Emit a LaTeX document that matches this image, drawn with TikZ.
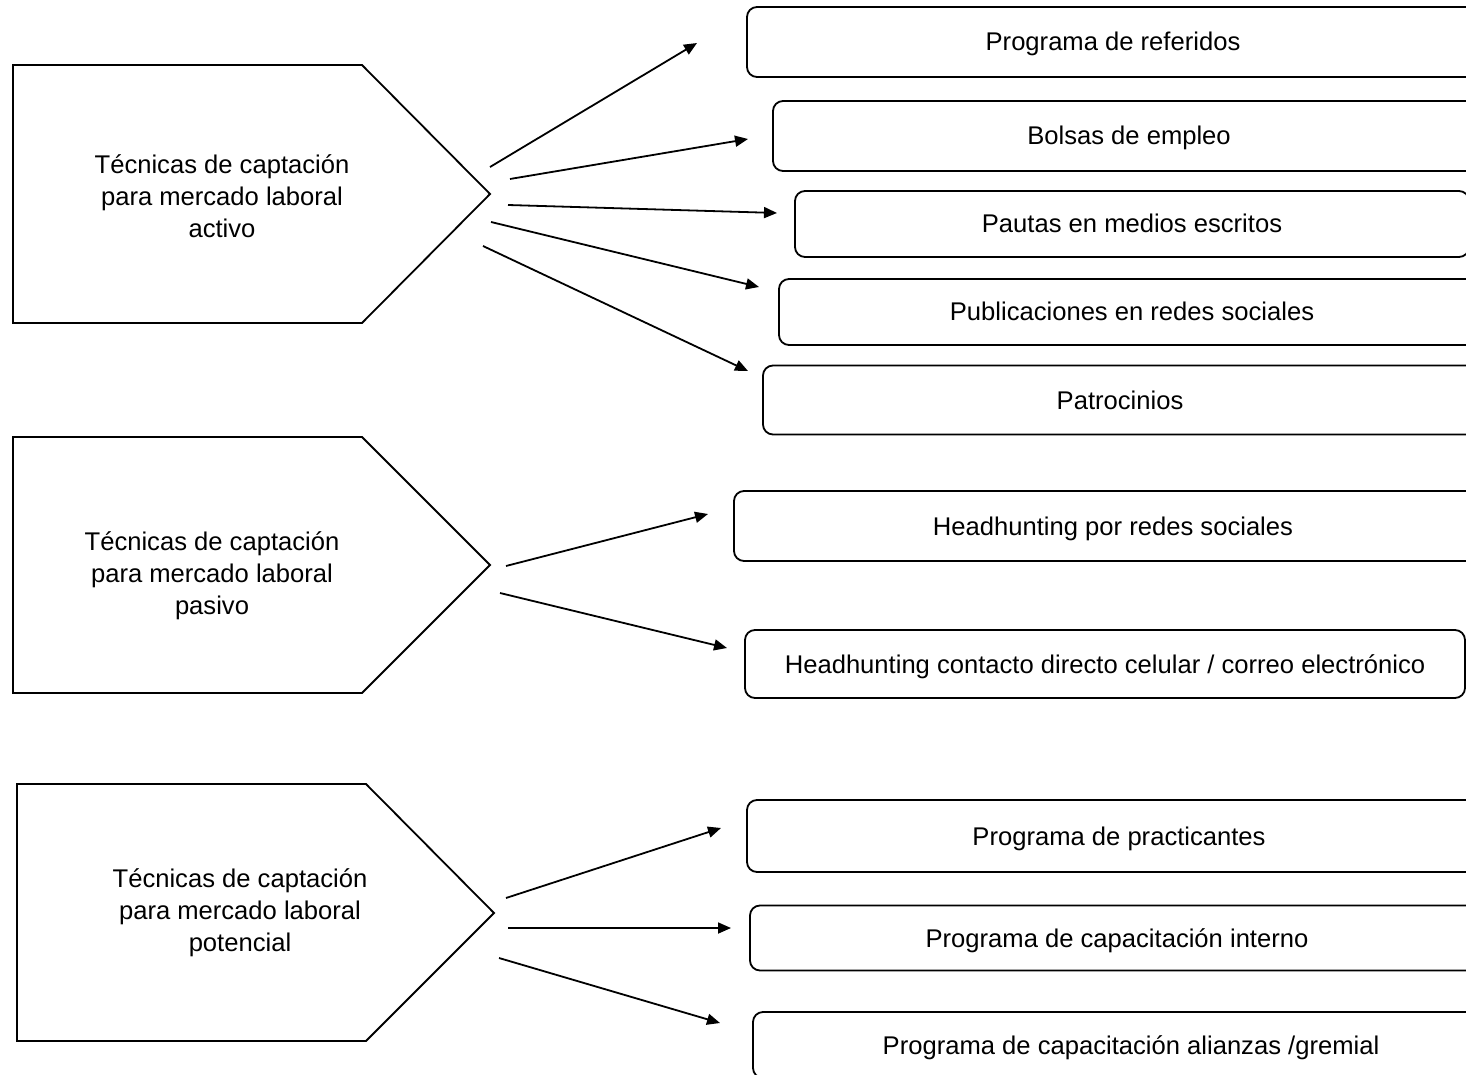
\documentclass[tikz,border=0pt]{standalone}
\usepackage{fontspec}
\setmainfont{Liberation Sans}
\usetikzlibrary{arrows.meta}

\tikzset{
  tecnica/.style={align=center,font=\fontsize{12.8}{16}\selectfont},
  opcion/.style={draw,rounded corners=5pt,inner sep=0pt,text height=9pt,text depth=0pt,font=\fontsize{12.8}{16}\selectfont},
  flecha/.style={-{Triangle[length=6.5pt,width=5.5pt]}}
}

\begin{document}
\begin{tikzpicture}[x=0.5pt,y=-0.5pt,line width=0.9pt]
            \useasboundingbox (0,0) rectangle (1466,1075);

            % tecnicas
            \draw (13,65) -- (362,65) -- (490,194) -- (362,323) -- (13,323) -- cycle;
            \draw (13,437) -- (362,437) -- (490,565) -- (362,693) -- (13,693) -- cycle;
            \draw (17,784) -- (366,784) -- (494,913) -- (366,1041) -- (17,1041) -- cycle;
            \node[tecnica] (act) at (222,196) {Técnicas de captación\\para mercado laboral\\activo};
            \node[tecnica] (pas) at (212,576) {Técnicas de captación\\para mercado laboral\\pasivo};
            \node[tecnica] (pot) at (240,913) {Técnicas de captación\\para mercado laboral\\potencial};

            % opciones
            \node[opcion,minimum width=366pt,minimum height=35pt] (ref) at (1113,42) {Programa de referidos};
            \node[opcion,minimum width=356pt,minimum height=35pt] (bol) at (1129,136) {Bolsas de empleo};
            \node[opcion,minimum width=337pt,minimum height=33pt] (pau) at (1132,224) {Pautas en medios escritos};
            \node[opcion,minimum width=353pt,minimum height=33pt] (pub) at (1132,312) {Publicaciones en redes sociales};
            \node[opcion,minimum width=357pt,minimum height=34.5pt] (pat) at (1120,400) {Patrocinios};
            \node[opcion,minimum width=379pt,minimum height=35pt] (hrs) at (1113,526) {Headhunting por redes sociales};
            \node[opcion,minimum width=360pt,minimum height=34pt] (hcd) at (1105,664) {Headhunting contacto directo celular / correo electrónico};
            \node[opcion,minimum width=372pt,minimum height=36pt] (pra) at (1119,836) {Programa de practicantes};
            \node[opcion,minimum width=367pt,minimum height=32.5pt] (cin) at (1117,938) {Programa de capacitación interno};
            \node[opcion,minimum width=378pt,minimum height=33pt] (cal) at (1131,1045) {Programa de capacitación alianzas /gremial};

            % extremos de las flechas
            \coordinate (a1) at (490,167); \coordinate (ref-in) at (697,43);
            \coordinate (a2) at (510,179); \coordinate (bol-in) at (748,139);
            \coordinate (a3) at (508,205); \coordinate (pau-in) at (777,213);
            \coordinate (a4) at (491,222); \coordinate (pub-in) at (759,287);
            \coordinate (a5) at (483,246); \coordinate (pat-in) at (748,371);
            \coordinate (b1) at (506,566); \coordinate (hrs-in) at (708,514);
            \coordinate (b2) at (500,593); \coordinate (hcd-in) at (727,648);
            \coordinate (c1) at (506,898); \coordinate (pra-in) at (721,828);
            \coordinate (c2) at (508,928); \coordinate (cin-in) at (731,928);
            \coordinate (c3) at (499,958); \coordinate (cal-in) at (720,1023);

            \draw[flecha] (a1) -- (ref-in);
            \draw[flecha] (a2) -- (bol-in);
            \draw[flecha] (a3) -- (pau-in);
            \draw[flecha] (a4) -- (pub-in);
            \draw[flecha] (a5) -- (pat-in);
            \draw[flecha] (b1) -- (hrs-in);
            \draw[flecha] (b2) -- (hcd-in);
            \draw[flecha] (c1) -- (pra-in);
            \draw[flecha] (c2) -- (cin-in);
            \draw[flecha] (c3) -- (cal-in);
        \end{tikzpicture}
\end{document}
